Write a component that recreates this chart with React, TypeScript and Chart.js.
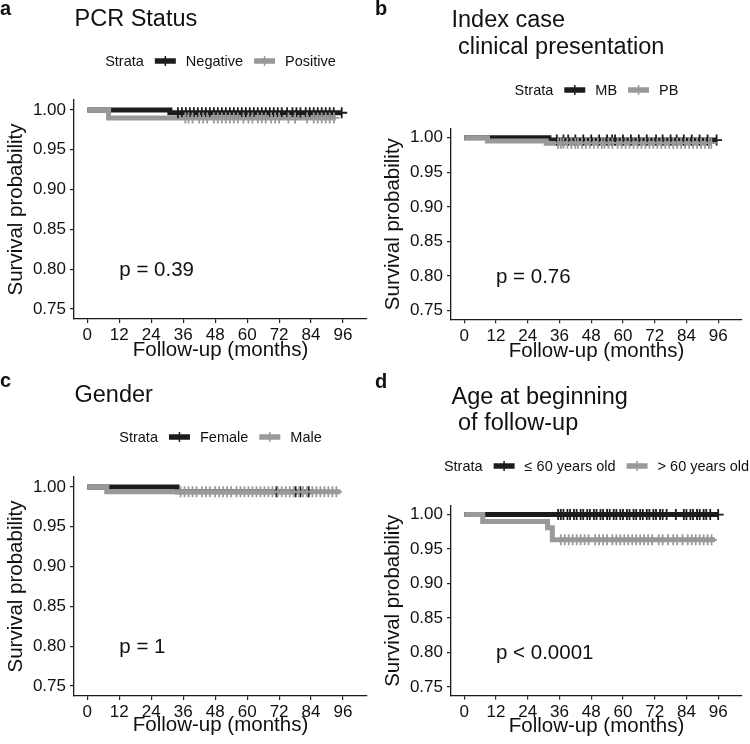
import React, { useEffect, useRef } from "react";
import { Chart, registerables } from "chart.js";
Chart.register(...registerables);

const FONT = '"Liberation Sans", Arial, Helvetica, sans-serif';
const BLACK = "#1c1c1c";
const GRAY = "#999999";
const TEXT = "#111111";

// ---------------- shared axis data ----------------
const X_TICKS = [0, 12, 24, 36, 48, 60, 72, 84, 96];
const Y_TICKS = [0.75, 0.8, 0.85, 0.9, 0.95, 1.0];
const X_MIN = -5;
const X_MAX = 105;
const Y_MIN = 0.7375;
const Y_MAX = 1.0125;
const X_LABEL = "Follow-up (months)";
const Y_LABEL = "Survival probability";
const LEGEND_TITLE = "Strata";
const P_X = 12;
const P_Y = 0.8;

// ---------------- panel a: PCR status ----------------
const A_LETTER = "a";
const A_TITLE = ["PCR Status"];
const A_STRATA = ["Negative", "Positive"];
const A_PVALUE = "p = 0.39";
const A_NEG_TIME = [0, 31, 95.5];
const A_NEG_SURV = [1, 0.9965, 0.9965];
const A_NEG_CENSOR = [34, 35.5, 37, 38.5, 40, 41.5, 43, 44.5, 46, 47.5, 49, 50.5, 52, 53.5, 55, 56.5, 58, 59.5, 61, 62.5, 64, 65.5, 67, 68.5, 70, 71.5, 73, 75, 77, 78.5, 80, 82, 83.5, 85, 86.5, 88, 89.5, 91, 92.5, 95.5];
const A_POS_TIME = [0, 8, 93.3];
const A_POS_SURV = [1, 0.99, 0.99];
const A_POS_CENSOR = [36.8, 38, 39.5, 42, 43.5, 45, 47.5, 49, 50.5, 52, 53.5, 55, 56.5, 58.6, 60.5, 62, 64, 65.5, 67, 69, 70.5, 72, 75.5, 78, 82.5, 85, 86.5, 88, 89.5, 91, 92.6];

// ---------------- panel b: index case clinical presentation ----------------
const B_LETTER = "b";
const B_TITLE = ["Index case", " clinical presentation"];
const B_STRATA = ["MB", "PB"];
const B_PVALUE = "p = 0.76";
const B_MB_TIME = [0, 32, 95.4];
const B_MB_SURV = [1, 0.9965, 0.9965];
const B_MB_CENSOR = [35, 37.5, 39.3, 42, 45, 48, 51, 54, 55.9, 57, 60, 63, 66, 69, 72.5, 75, 78, 80.3, 83, 86, 89, 92, 95.4];
const B_PB_TIME = [0, 8.8, 31, 93.4];
const B_PB_SURV = [1, 0.995, 0.992, 0.992];
const B_PB_CENSOR = [35.5, 36.5, 37.5, 39, 40.5, 42, 43, 44.5, 46, 47.5, 49, 50.5, 52, 53, 54.5, 56, 58, 59.5, 61, 62.5, 64, 65.5, 67, 68.5, 70, 71.5, 73, 74.5, 76, 77.5, 79, 80.5, 82, 83.5, 85, 86.5, 88, 89.5, 91, 92.5, 93.4];

// ---------------- panel c: gender ----------------
const C_LETTER = "c";
const C_TITLE = ["Gender"];
const C_STRATA = ["Female", "Male"];
const C_PVALUE = "p = 1";
const C_F_TIME = [0, 33.7, 84];
const C_F_SURV = [1, 0.994, 0.994];
const C_F_CENSOR = [71, 78.2, 80, 83.1];
const C_M_TIME = [0, 7.3, 95];
const C_M_SURV = [1, 0.994, 0.994];
const C_M_CENSOR = [35, 36.5, 38, 39.5, 41, 43, 44.5, 46, 48, 49.5, 51, 52.5, 54, 56, 57.5, 59, 60.5, 62, 63.5, 65, 66.5, 68, 69.5, 71.5, 73, 74.5, 76, 77.5, 79.5, 81, 82.5, 84.5, 86, 87.5, 89, 90.5, 92, 93.5];

// ---------------- panel d: age at beginning of follow-up ----------------
const D_LETTER = "d";
const D_TITLE = ["Age at beginning", " of follow-up"];
const D_STRATA = ["\u2264 60 years old", "> 60 years old"];
const D_PVALUE = "p < 0.0001";
const D_Y_TIME = [0, 96];
const D_Y_SURV = [1, 1];
const D_Y_CENSOR = [35.5, 36.5, 37.5, 39, 40, 41.5, 42.5, 44, 45, 46.5, 47.5, 49, 50, 51.5, 52.5, 54, 55, 56.5, 57.5, 59, 60, 61.5, 62.5, 64, 65, 66.5, 67.5, 69, 70, 71.5, 72.5, 74, 75, 76.5, 80, 83, 84, 85.5, 86.5, 88, 89, 90.5, 91.5, 93, 96];
const D_O_TIME = [0, 7, 31.5, 33.3, 94.8];
const D_O_SURV = [1, 0.99, 0.981, 0.9635, 0.9635];
const D_O_CENSOR = [36.5, 38, 39.5, 41, 42.5, 44, 45.5, 47, 49.5, 51, 52.5, 54, 56, 57.5, 59, 60.5, 62, 63.5, 65, 66.5, 68, 69.5, 71, 73.5, 75, 77, 79, 80.5, 82.5, 84.5, 86, 87.5, 89, 90.5, 92, 93.5];

// ---------------- layout (positions / sizes) ----------------
type Layout = {
  left: number; top: number; yW: number; areaTop: number; areaBottom: number;
  letterY: number; titleY: number[]; legendY: number; yTitlePad: number; xTitlePad: number;
};

const PANELS = [
  {
    letter: A_LETTER, title: A_TITLE, strata: A_STRATA, pval: A_PVALUE,
    s1: { time: A_NEG_TIME, surv: A_NEG_SURV, censor: A_NEG_CENSOR },
    s2: { time: A_POS_TIME, surv: A_POS_SURV, censor: A_POS_CENSOR },
    layout: { left: 0, top: 0, yW: 74, areaTop: 100, areaBottom: 319, letterY: 15, titleY: [25.7], legendY: 61, yTitlePad: 4.4, xTitlePad: 9.2 } as Layout,
  },
  {
    letter: B_LETTER, title: B_TITLE, strata: B_STRATA, pval: B_PVALUE,
    s1: { time: B_MB_TIME, surv: B_MB_SURV, censor: B_MB_CENSOR },
    s2: { time: B_PB_TIME, surv: B_PB_SURV, censor: B_PB_CENSOR },
    layout: { left: 375, top: 0, yW: 76, areaTop: 129, areaBottom: 319.3, letterY: 15, titleY: [26.7, 54.3], legendY: 90, yTitlePad: 6, xTitlePad: 8.5 } as Layout,
  },
  {
    letter: C_LETTER, title: C_TITLE, strata: C_STRATA, pval: C_PVALUE,
    s1: { time: C_F_TIME, surv: C_F_SURV, censor: C_F_CENSOR },
    s2: { time: C_M_TIME, surv: C_M_SURV, censor: C_M_CENSOR },
    layout: { left: 0, top: 372, yW: 74, areaTop: 105, areaBottom: 324, letterY: 15, titleY: [30], legendY: 65, yTitlePad: 4.2, xTitlePad: 6.7 } as Layout,
  },
  {
    letter: D_LETTER, title: D_TITLE, strata: D_STRATA, pval: D_PVALUE,
    s1: { time: D_Y_TIME, surv: D_Y_SURV, censor: D_Y_CENSOR },
    s2: { time: D_O_TIME, surv: D_O_SURV, censor: D_O_CENSOR },
    layout: { left: 375, top: 372, yW: 76, areaTop: 134, areaBottom: 323.6, letterY: 16, titleY: [31.7, 58.3], legendY: 94, yTitlePad: 6, xTitlePad: 5 } as Layout,
  },
];

const W = 375;
const H = 372;

function survAt(time: number[], surv: number[], t: number) {
  let v = surv[0];
  for (let i = 0; i < time.length; i++) if (time[i] <= t) v = surv[i];
  return v;
}

function Panel({ p }: { p: (typeof PANELS)[number] }) {
  const ref = useRef<HTMLCanvasElement | null>(null);
  useEffect(() => {
    if (!ref.current) return;
    const L = p.layout;
    const lineDs = (s: any, color: string) => ({
      type: "line",
      data: s.time.map((t: number, i: number) => ({ x: t, y: s.surv[i] })),
      borderColor: color,
      borderWidth: 5,
      stepped: "before",
      pointRadius: 0,
      fill: false,
      borderCapStyle: "butt",
      borderJoinStyle: "miter",
    });
    const censorDs = (s: any, color: string) => ({
      type: "line",
      data: s.censor.map((t: number) => ({ x: t, y: survAt(s.time, s.surv, t) })),
      showLine: false,
      pointStyle: "cross",
      pointRadius: 5.5,
      pointBorderWidth: 1.8,
      pointBorderColor: color,
      pointBackgroundColor: color,
      borderColor: color,
    });

    const textPlugin = {
      id: "panelText",
      afterDraw(chart: any) {
        const ctx = chart.ctx as CanvasRenderingContext2D;
        const area = chart.chartArea;
        ctx.save();
        ctx.fillStyle = TEXT;
        ctx.textAlign = "left";
        ctx.textBaseline = "alphabetic";
        ctx.font = `bold 20px ${FONT}`;
        ctx.fillText(p.letter, 0, L.letterY);
        ctx.font = `23.5px ${FONT}`;
        p.title.forEach((line, i) => ctx.fillText(line, area.left + 0.5, L.titleY[i]));

        // legend
        ctx.font = `14.5px ${FONT}`;
        ctx.textBaseline = "middle";
        const keyW = 21, gapTK = 11, gapKL = 10, gapLK = 11;
        const wT = ctx.measureText(LEGEND_TITLE).width;
        const w1 = ctx.measureText(p.strata[0]).width;
        const w2 = ctx.measureText(p.strata[1]).width;
        const total = wT + gapTK + keyW + gapKL + w1 + gapLK + keyW + gapKL + w2;
        let x = (area.left + area.right) / 2 - total / 2;
        const y = L.legendY;
        ctx.fillText(LEGEND_TITLE, x, y + 0.5);
        x += wT + gapTK;
        const drawKey = (kx: number, color: string) => {
          ctx.strokeStyle = color;
          ctx.lineCap = "butt";
          ctx.lineWidth = 5.5;
          ctx.beginPath();
          ctx.moveTo(kx, y);
          ctx.lineTo(kx + keyW, y);
          ctx.stroke();
          ctx.lineWidth = 1.5;
          ctx.beginPath();
          ctx.moveTo(kx + keyW / 2, y - 5);
          ctx.lineTo(kx + keyW / 2, y + 5);
          ctx.stroke();
        };
        drawKey(x, BLACK);
        x += keyW + gapKL;
        ctx.fillText(p.strata[0], x, y + 0.5);
        x += w1 + gapLK;
        drawKey(x, GRAY);
        x += keyW + gapKL;
        ctx.fillText(p.strata[1], x, y + 0.5);

        // p-value
        ctx.font = `20.5px ${FONT}`;
        ctx.textBaseline = "middle";
        ctx.fillText(p.pval, chart.scales.x.getPixelForValue(P_X), chart.scales.y.getPixelForValue(P_Y) + 1);
        ctx.restore();
      },
    };

    const chart = new Chart(ref.current, {
      type: "line",
      data: {
        datasets: [
          censorDs(p.s2, GRAY),
          censorDs(p.s1, BLACK),
          lineDs(p.s2, GRAY),
          lineDs(p.s1, BLACK),
        ] as any,
      },
      options: {
        responsive: false,
        animation: false,
        devicePixelRatio: 1,
        layout: { padding: { top: L.areaTop, left: 0, right: 8, bottom: 0 } },
        plugins: { legend: { display: false }, tooltip: { enabled: false }, title: { display: false } },
        elements: { line: { tension: 0 } },
        scales: {
          x: {
            type: "linear",
            min: X_MIN,
            max: X_MAX,
            afterBuildTicks: (s: any) => { s.ticks = X_TICKS.map((v) => ({ value: v })); },
            afterFit: (s: any) => { s.height = H - L.areaBottom; },
            grid: { display: true, drawOnChartArea: false, drawTicks: true, tickLength: 4, color: "#222", lineWidth: 1.2 },
            border: { display: true, color: "#1a1a1a", width: 1.3 },
            ticks: { font: { family: FONT, size: 17 }, color: TEXT, padding: 2.5, maxRotation: 0, autoSkip: false, callback: (v: any) => String(v) },
            title: { display: true, text: X_LABEL, font: { family: FONT, size: 20.5 }, color: TEXT, padding: { top: 0, bottom: L.xTitlePad } },
          },
          y: {
            type: "linear",
            min: Y_MIN,
            max: Y_MAX,
            afterBuildTicks: (s: any) => { s.ticks = Y_TICKS.map((v) => ({ value: v })); },
            afterFit: (s: any) => { s.width = L.yW; },
            grid: { display: true, drawOnChartArea: false, drawTicks: true, tickLength: 4, color: "#222", lineWidth: 1.2 },
            border: { display: true, color: "#1a1a1a", width: 1.3 },
            ticks: { font: { family: FONT, size: 17 }, color: TEXT, padding: 4, autoSkip: false, callback: (v: any) => Number(v).toFixed(2) },
            title: { display: true, text: Y_LABEL, font: { family: FONT, size: 20.5 }, color: TEXT, padding: { top: L.yTitlePad, bottom: 0 } },
          },
        },
      } as any,
      plugins: [textPlugin],
    });
    return () => chart.destroy();
  }, [p]);
  return (
    <canvas
      ref={ref}
      width={W}
      height={H}
      style={{ position: "absolute", left: p.layout.left, top: p.layout.top, width: W, height: H }}
    />
  );
}

export default function App() {
  return (
    <div style={{ position: "fixed", left: 0, top: 0, width: 750, height: 744, background: "#fff", overflow: "hidden" }}>
      {PANELS.map((p) => (
        <Panel key={p.letter} p={p} />
      ))}
    </div>
  );
}
